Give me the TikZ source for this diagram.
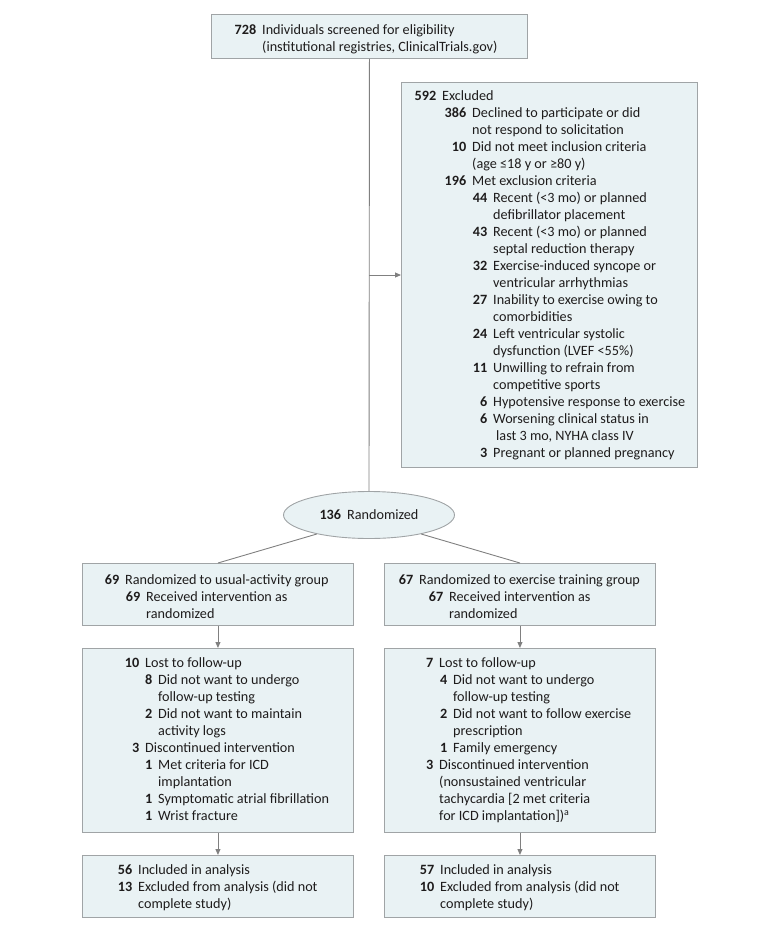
\documentclass[tikz,border=0pt]{standalone}
\usepackage{fontspec}
\setmainfont{Carlito}
\usetikzlibrary{arrows.meta,shapes.geometric}
\definecolor{boxfill}{RGB}{233,242,244}
\definecolor{boxline}{RGB}{160,164,166}
\definecolor{conn}{RGB}{128,128,128}
\definecolor{ink}{RGB}{30,28,28}
\newcommand\lne[3]{\hspace*{#1pt}\llap{\textbf{#2}\hspace{6pt}}#3}
\newcommand\fl{\rule{0pt}{13pt}}
\tikzset{
  fbox/.style={draw=boxline, fill=boxfill, line width=0.9pt, anchor=north west, inner sep=0pt},
  txt/.style={anchor=north west, inner sep=0pt, align=left, text=ink, font=\fontsize{14.2}{17}\selectfont},
  line/.style={draw=conn, line width=0.9pt},
  arr/.style={line, -{Triangle[length=6pt,width=5pt]}}
}
\begin{document}
\begin{tikzpicture}[x=1pt,y=-1pt]
\useasboundingbox (0,0) rectangle (780,930);
% boxes
\node[fbox, minimum width=316pt, minimum height=44pt] (top) at (211,14) {};
\node[fbox, minimum width=296pt, minimum height=385pt] (ex) at (401,82) {};
\node[fbox, minimum width=271pt, minimum height=62pt] (gl) at (82,563) {};
\node[fbox, minimum width=271pt, minimum height=62pt] (gr) at (384,563) {};
\node[fbox, minimum width=271pt, minimum height=184pt] (ml) at (82,648) {};
\node[fbox, minimum width=271pt, minimum height=184pt] (mr) at (384,648) {};
\node[fbox, minimum width=271pt, minimum height=62pt] (bl) at (82,855) {};
\node[fbox, minimum width=271pt, minimum height=62pt] (br) at (384,855) {};
\node[ellipse, draw=boxline, fill=boxfill, line width=0.9pt, minimum width=171pt, minimum height=47pt, inner sep=0pt, text=ink, font=\fontsize{14.2}{17}\selectfont] (rand) at (369,515) {\textbf{136}\hspace{6pt}Randomized};
% texts
\node[txt] (topt) at (262,21.5) {\fl\lne{0}{728}{Individuals screened for eligibility}\\
\lne{0}{}{(institutional registries, ClinicalTrials.gov)}};
\node[txt] (ext) at (442,87.7) {\fl\lne{0}{592}{Excluded}\\
\lne{30}{386}{Declined to participate or did}\\
\lne{30}{}{not respond to solicitation}\\
\lne{30}{10}{Did not meet inclusion criteria}\\
\lne{30}{}{(age ≤18 y or ≥80 y)}\\
\lne{30}{196}{Met exclusion criteria}\\
\lne{51}{44}{Recent (<3 mo) or planned}\\
\lne{51}{}{defibrillator placement}\\
\lne{51}{43}{Recent (<3 mo) or planned}\\
\lne{51}{}{septal reduction therapy}\\
\lne{51}{32}{Exercise-induced syncope or}\\
\lne{51}{}{ventricular arrhythmias}\\
\lne{51}{27}{Inability to exercise owing to}\\
\lne{51}{}{comorbidities}\\
\lne{51}{24}{Left ventricular systolic}\\
\lne{51}{}{dysfunction (LVEF <55\%)}\\
\lne{51}{11}{Unwilling to refrain from}\\
\lne{51}{}{competitive sports}\\
\lne{51}{6}{Hypotensive response to exercise}\\
\lne{51}{6}{Worsening clinical status in}\\
\lne{54}{}{last 3 mo, NYHA class IV}\\
\lne{51}{3}{Pregnant or planned pregnancy}};
\node[txt] (glt) at (125,571) {\fl\lne{0}{69}{Randomized to usual-activity group}\\
\lne{21}{69}{Received intervention as}\\
\lne{21}{}{randomized}};
\node[txt] (grt) at (419,571) {\fl\lne{0}{67}{Randomized to exercise training group}\\
\lne{30}{67}{Received intervention as}\\
\lne{30}{}{randomized}};
\node[txt] (mlt) at (145,654.7) {\fl\lne{0}{10}{Lost to follow-up}\\
\lne{13}{8}{Did not want to undergo}\\
\lne{13}{}{follow-up testing}\\
\lne{13}{2}{Did not want to maintain}\\
\lne{13}{}{activity logs}\\
\lne{0}{3}{Discontinued intervention}\\
\lne{13}{1}{Met criteria for ICD}\\
\lne{13}{}{implantation}\\
\lne{13}{1}{Symptomatic atrial fibrillation}\\
\lne{13}{1}{Wrist fracture}};
\node[txt] (mrt) at (439,654.7) {\fl\lne{0}{7}{Lost to follow-up}\\
\lne{14}{4}{Did not want to undergo}\\
\lne{14}{}{follow-up testing}\\
\lne{14}{2}{Did not want to follow exercise}\\
\lne{14}{}{prescription}\\
\lne{14}{1}{Family emergency}\\
\lne{0}{3}{Discontinued intervention}\\
\lne{0}{}{(nonsustained ventricular}\\
\lne{0}{}{tachycardia [2 met criteria}\\
\lne{0}{}{for ICD implantation])\textsuperscript{a}}};
\node[txt] (blt) at (138,861.7) {\fl\lne{0}{56}{Included in analysis}\\
\lne{0}{13}{Excluded from analysis (did not}\\
\lne{0}{}{complete study)}};
\node[txt] (brt) at (440,861.7) {\fl\lne{0}{57}{Included in analysis}\\
\lne{0}{10}{Excluded from analysis (did not}\\
\lne{0}{}{complete study)}};
% connectors
\coordinate (j) at (369,275);
\draw[line] (top.south) -- (rand.north);
\draw[arr] (j) -- (j -| ex.west);
\draw[line] (rand.200) -- (gl.north);
\draw[line] (rand.340) -- (gr.north);
\draw[arr] (gl.south) -- (ml.north);
\draw[arr] (gr.south) -- (mr.north);
\draw[arr] (ml.south) -- (bl.north);
\draw[arr] (mr.south) -- (br.north);
\end{tikzpicture}
\end{document}
